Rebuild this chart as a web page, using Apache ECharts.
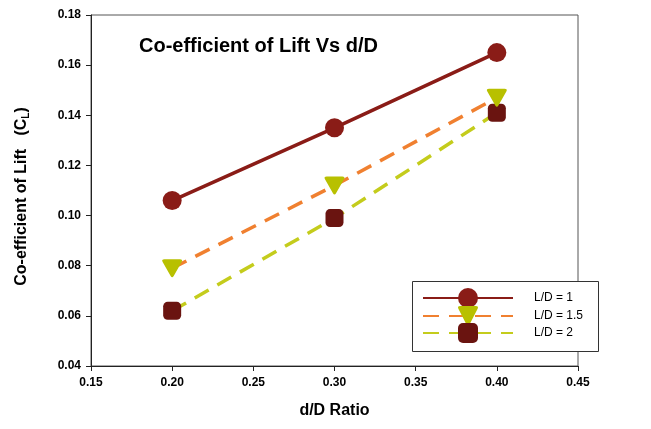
<!DOCTYPE html>
<html>
<head>
<meta charset="utf-8">
<script src="https://cdn.jsdelivr.net/npm/echarts@6/dist/echarts.min.js"></script>
<style>
  html, body { margin: 0; padding: 0; background: #fff; }
  #chart { width: 651px; height: 429px; }
</style>
</head>
<body>
<div id="chart"></div>
<script>
// d/D ratios tested
const ratios = [0.20, 0.30, 0.40];
// Lift coefficient for each L/D configuration
const cl_LD1 = [0.106, 0.135, 0.165];
const cl_LD15 = [0.079, 0.112, 0.147];
const cl_LD2 = [0.062, 0.099, 0.141];
const seriesNames = ['L/D = 1', 'L/D = 1.5', 'L/D = 2'];

const pairs = ys => ratios.map((x, i) => [x, ys[i]]);
const font = 'Arial, "Liberation Sans", sans-serif';
// downward triangle with softened corners
const roundTri = 'path://M3,0 L17,0 Q20,0 18.6,2.6 L11.4,16 Q10,18.5 8.6,16 L1.4,2.6 Q0,0 3,0 Z';

// one legend row per series, stacked inside a framed box
const legendRowTops = [288, 306, 323];
const legends = seriesNames.map((name, i) => ({
  orient: 'vertical',
  left: 422, top: legendRowTops[i],
  padding: 0,
  itemWidth: 90, itemHeight: 25,
  textStyle: { fontFamily: font, fontSize: 12, color: '#000', padding: [0, 0, 0, 16] },
  data: [name],
  z: 5
}));

const chart = echarts.init(document.getElementById('chart'), null, { renderer: 'canvas' });
chart.setOption({
  animation: false,
  backgroundColor: '#fff',
  title: {
    text: 'Co-efficient of Lift Vs d/D',
    left: 134, top: 31,
    textStyle: { fontFamily: font, fontWeight: 'bold', fontSize: 20, color: '#000' }
  },
  grid: {
    left: 91, right: 73, top: 15, bottom: 63,
    show: true, borderColor: '#555', borderWidth: 1, backgroundColor: 'transparent'
  },
  graphic: [{
    type: 'rect', left: 412, top: 281, z: 4,
    shape: { width: 186, height: 70 },
    style: { fill: '#fff', stroke: '#333', lineWidth: 1 }
  }],
  legend: legends,
  xAxis: {
    type: 'value', min: 0.15, max: 0.45, interval: 0.05,
    name: 'd/D Ratio', nameLocation: 'middle', nameGap: 37,
    nameTextStyle: { fontFamily: font, fontWeight: 'bold', fontSize: 16, color: '#000' },
    axisLine: { lineStyle: { color: '#222', width: 1 } },
    axisTick: { show: true, inside: false, length: 5, lineStyle: { color: '#222' } },
    axisLabel: { fontFamily: font, fontWeight: 'bold', fontSize: 12, color: '#000', margin: 11,
      formatter: v => v.toFixed(2) },
    splitLine: { show: false }
  },
  yAxis: {
    type: 'value', min: 0.04, max: 0.18, interval: 0.02,
    name: '{t|Co-efficient of Lift   (C}{s|L}{t|)}', nameLocation: 'middle', nameGap: 60,
    nameTextStyle: {
      padding: [0, 12, 0, 0],
      rich: {
        t: { fontFamily: font, fontWeight: 'bold', fontSize: 16, color: '#000' },
        s: { fontFamily: font, fontWeight: 'bold', fontSize: 10, color: '#000', padding: [9, 0, 0, 0] }
      }
    },
    axisLine: { show: true, lineStyle: { color: '#222', width: 1 } },
    axisTick: { show: true, inside: false, length: 5, lineStyle: { color: '#222' } },
    axisLabel: { fontFamily: font, fontWeight: 'bold', fontSize: 12, color: '#000', margin: 10,
      formatter: v => v.toFixed(2) },
    splitLine: { show: false }
  },
  series: [
    {
      name: seriesNames[0], type: 'line', data: pairs(cl_LD1),
      symbol: 'circle', symbolSize: 19,
      lineStyle: { color: '#8a1c17', width: 3.5, type: 'solid' },
      itemStyle: { color: '#8a1c17', borderWidth: 0 },
      z: 4
    },
    {
      name: seriesNames[1], type: 'line', data: pairs(cl_LD15),
      symbol: roundTri, symbolSize: [20, 18],
      lineStyle: { color: '#f08030', width: 3.5, type: [16, 10] },
      itemStyle: { color: '#b8c000', borderWidth: 0 },
      z: 3
    },
    {
      name: seriesNames[2], type: 'line', data: pairs(cl_LD2),
      symbol: 'roundRect', symbolSize: 18,
      lineStyle: { color: '#c4cc1c', width: 3.5, type: [16, 10] },
      itemStyle: { color: '#6a1410', borderWidth: 0 },
      z: 2
    }
  ]
});
</script>
</body>
</html>
